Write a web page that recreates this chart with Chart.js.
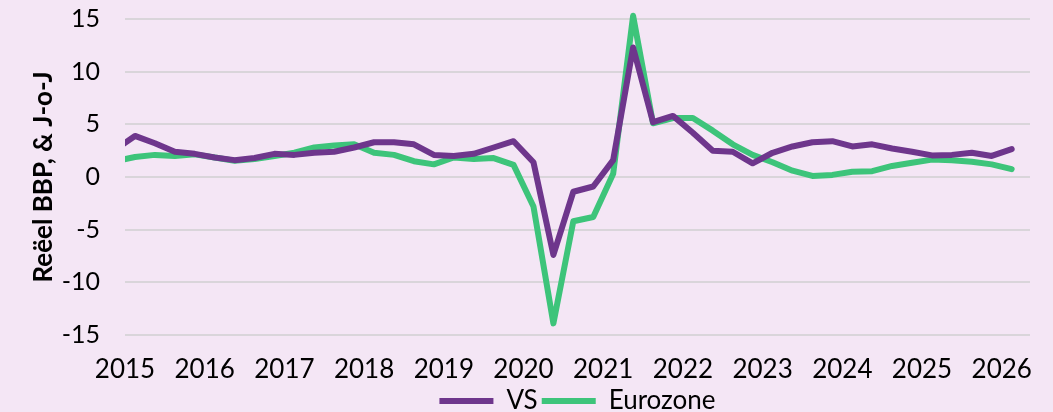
<!DOCTYPE html>
<html lang="nl">
<head>
<meta charset="utf-8">
<title>Reëel BBP VS en Eurozone</title>
<script src="https://cdn.jsdelivr.net/npm/chart.js@4/dist/chart.umd.min.js"></script>
<style>
  html, body { margin: 0; padding: 0; background: #F4E6F5; }
  #wrap { width: 1053px; height: 412px; position: relative; }
</style>
</head>
<body>
<div id="wrap"><canvas id="bbpChart"></canvas></div>
<script>
// ==================== DATA ====================

// kwartalen (eerste punt 2014K4 valt net buiten de as)
const kwartalen = [
  '2014K4',
  '2015K1', '2015K2', '2015K3', '2015K4',
  '2016K1', '2016K2', '2016K3', '2016K4',
  '2017K1', '2017K2', '2017K3', '2017K4',
  '2018K1', '2018K2', '2018K3', '2018K4',
  '2019K1', '2019K2', '2019K3', '2019K4',
  '2020K1', '2020K2', '2020K3', '2020K4',
  '2021K1', '2021K2', '2021K3', '2021K4',
  '2022K1', '2022K2', '2022K3', '2022K4',
  '2023K1', '2023K2', '2023K3', '2023K4',
  '2024K1', '2024K2', '2024K3', '2024K4',
  '2025K1', '2025K2', '2025K3', '2025K4',
  '2026K1'
];

const vs = [
  2.6,
  3.9, 3.2, 2.4, 2.2,
  1.85, 1.6, 1.8, 2.2,
  2.1, 2.3, 2.4, 2.8,
  3.3, 3.3, 3.1, 2.1,
  2.0, 2.2, 2.8, 3.4,
  1.4, -7.4, -1.4, -0.9,
  1.6, 12.3, 5.2, 5.8,
  4.2, 2.5, 2.4, 1.3,
  2.3, 2.9, 3.3, 3.4,
  2.9, 3.1, 2.7, 2.4,
  2.05, 2.1, 2.3, 2.0,
  2.65
];

const eurozone = [
  1.5,
  1.9, 2.1, 2.0, 2.15,
  1.85, 1.55, 1.7, 2.0,
  2.3, 2.8, 3.0, 3.1,
  2.3, 2.1, 1.5, 1.2,
  1.85, 1.7, 1.8, 1.15,
  -2.8, -13.9, -4.2, -3.8,
  0.3, 15.3, 5.1, 5.6,
  5.6, 4.4, 3.1, 2.1,
  1.4, 0.6, 0.1, 0.2,
  0.5, 0.55, 1.05, 1.35,
  1.65, 1.6, 1.45, 1.2,
  0.75
];

const jaren = [2015, 2016, 2017, 2018, 2019, 2020, 2021, 2022, 2023, 2024, 2025, 2026];
const yTicks = [-15, -10, -5, 0, 5, 10, 15];

// ==================== HULPFUNCTIES ====================

// midden van het kwartaal op een doorlopende jaar-as
function kwartaalNaarX(k) {
  const jaar = parseInt(k.slice(0, 4), 10);
  const q = parseInt(k.slice(5), 10);
  return jaar + (q - 0.5) / 4;
}

function maakPunten(waarden) {
  return kwartalen.map((k, i) => ({ x: kwartaalNaarX(k), y: waarden[i] }));
}

// ==================== GRAFIEK ====================

const lettertype = "Lato, 'Open Sans', sans-serif";
const clipRand = { left: 0, top: false, right: 0, bottom: 0 };

const ctx = document.getElementById('bbpChart').getContext('2d');
new Chart(ctx, {
  type: 'line',
  data: {
    datasets: [
      {
        label: 'VS',
        data: maakPunten(vs),
        borderColor: '#6E368C',
        backgroundColor: '#6E368C',
        borderWidth: 6,
        borderCapStyle: 'round',
        borderJoinStyle: 'round',
        pointRadius: 0,
        tension: 0,
        clip: clipRand
      },
      {
        label: 'Eurozone',
        data: maakPunten(eurozone),
        borderColor: '#3DC47A',
        backgroundColor: '#3DC47A',
        borderWidth: 6,
        borderCapStyle: 'round',
        borderJoinStyle: 'round',
        pointRadius: 0,
        tension: 0,
        clip: clipRand
      }
    ]
  },
  options: {
    responsive: true,
    maintainAspectRatio: false,
    animation: false,
    layout: { padding: { left: 0, top: 19, right: 23, bottom: -12 } },
    plugins: {
      tooltip: { enabled: false },
      legend: {
        position: 'bottom',
        fullSize: false,
        labels: {
          usePointStyle: true,
          pointStyle: 'line',
          pointStyleWidth: 54,
          boxHeight: 22,
          padding: 4,
          color: '#000000',
          font: { family: lettertype, size: 26 }
        }
      }
    },
    scales: {
      x: {
        type: 'linear',
        min: jaren[0],
        max: 2026.355,
        grid: { display: false },
        border: { display: false },
        afterFit: scale => { scale.height = 49; },
        afterBuildTicks: scale => { scale.ticks = jaren.map(j => ({ value: j })); },
        ticks: {
          autoSkip: false,
          maxRotation: 0,
          includeBounds: false,
          padding: 11,
          color: '#000000',
          font: { family: lettertype, size: 26 },
          callback: v => String(v)
        }
      },
      y: {
        min: yTicks[0],
        max: yTicks[yTicks.length - 1],
        afterBuildTicks: scale => { scale.ticks = yTicks.map(v => ({ value: v })); },
        afterFit: scale => { scale.width = 125; },
        // onzichtbare tick-streepjes geven de ruimte tussen labels en plot
        grid: { color: '#D9D5DA', lineWidth: 2, drawTicks: true, tickLength: 25, tickColor: 'rgba(0,0,0,0)' },
        border: { display: false },
        ticks: {
          padding: 0,
          color: '#000000',
          font: { family: lettertype, size: 25 }
        },
        title: {
          display: true,
          text: 'Reëel BBP, & J-o-J',
          color: '#000000',
          padding: { top: 28, bottom: 0 },
          font: { family: lettertype, size: 26, weight: 'bold' }
        }
      }
    }
  }
});
</script>
</body>
</html>
